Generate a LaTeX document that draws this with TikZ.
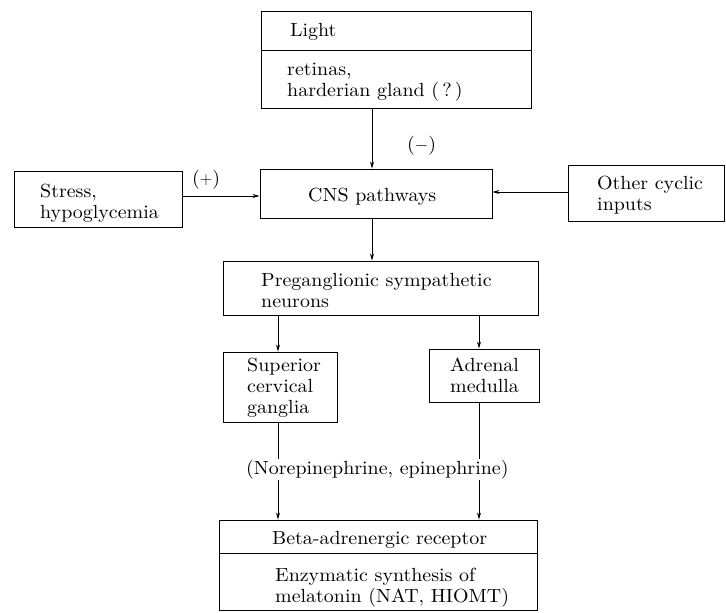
\documentclass[tikz,border=0pt]{standalone}
\usepackage{fontspec}
\setmainfont{lmroman10-regular.otf}[FakeStretch=1.05]
\usetikzlibrary{arrows.meta}
\begin{document}
\begin{tikzpicture}[x=1pt,y=-1pt,
  box/.style={draw,line width=0.9pt,inner sep=0pt},
  txt/.style={inner sep=0pt,anchor=base west,align=left,font=\fontsize{19}{21}\selectfont},
  arr/.style={line width=0.8pt,-{Stealth[length=7pt,width=4pt]}},
  ln/.style={line width=0.8pt}]
\useasboundingbox (0,0) rectangle (726,613);
% boxes
\node[box,minimum width=270pt,minimum height=97pt] (top) at (396,59.5) {};
\node[box,minimum width=232pt,minimum height=49pt] (cns) at (376,193.5) {};
\node[box,minimum width=168pt,minimum height=56pt] (stress) at (98,199) {};
\node[box,minimum width=156pt,minimum height=56pt] (other) at (646.5,193) {};
\node[box,minimum width=315pt,minimum height=54pt] (pre) at (380.5,288) {};
\node[box,minimum width=114pt,minimum height=70pt] (sup) at (280,387) {};
\node[box,minimum width=110pt,minimum height=53pt] (adr) at (484,375.5) {};
\node[box,minimum width=318pt,minimum height=90pt] (bot) at (378,565) {};
% dividers
\coordinate (d1) at (0,50);
\coordinate (d2) at (0,553);
\draw[ln] (top.west |- d1) -- (top.east |- d1);
\draw[ln] (bot.west |- d2) -- (bot.east |- d2);
% texts (base anchor = baseline of last line)
\node[txt] (tlight) at (290,36) {Light};
\node[txt] (tret) at (287,96) {retinas,\\harderian gland (\,?\,)};
\node[txt] (tminus) at (407,150) {($-$)};
\node[txt] (tstress) at (40,218) {Stress,\\hypoglycemia};
\node[txt] (tplus) at (192,184) {($+$)};
\node[txt] (tcns) at (308,201) {CNS pathways};
\node[txt] (tother) at (597,210) {Other cyclic\\inputs};
\node[txt] (tpre) at (261,307) {Preganglionic sympathetic\\neurons};
\node[txt] (tsup) at (247,413) {Superior\\cervical\\ganglia};
\node[txt] (tadr) at (450,392) {Adrenal\\medulla};
\node[txt] (tbeta) at (272,544) {Beta-adrenergic receptor};
\node[txt] (tenz) at (275,602) {Enzymatic synthesis of\\melatonin (NAT, HIOMT)};
% connectors
\coordinate (c1) at (372,0);
\coordinate (c2) at (278,0);
\coordinate (c3) at (479,0);
\draw[arr] (top.south -| c1) -- (cns.north -| c1);
\draw[arr] (cns.south -| c1) -- (pre.north -| c1);
\draw[arr] (stress.east |- 0,196) -- (cns.west |- 0,196);
\draw[arr] (other.west |- 0,192) -- (cns.east |- 0,192);
\draw[arr] (pre.south -| c2) -- (sup.north -| c2);
\draw[arr] (pre.south -| c3) -- (adr.north -| c3);
\draw[arr] (sup.south -| c2) -- (bot.north -| c2);
\draw[arr] (adr.south -| c3) -- (bot.north -| c3);
\node[txt,fill=white,inner ysep=1pt] (tnor) at (246,474) {(Norepinephrine, epinephrine)};
\end{tikzpicture}
\end{document}
